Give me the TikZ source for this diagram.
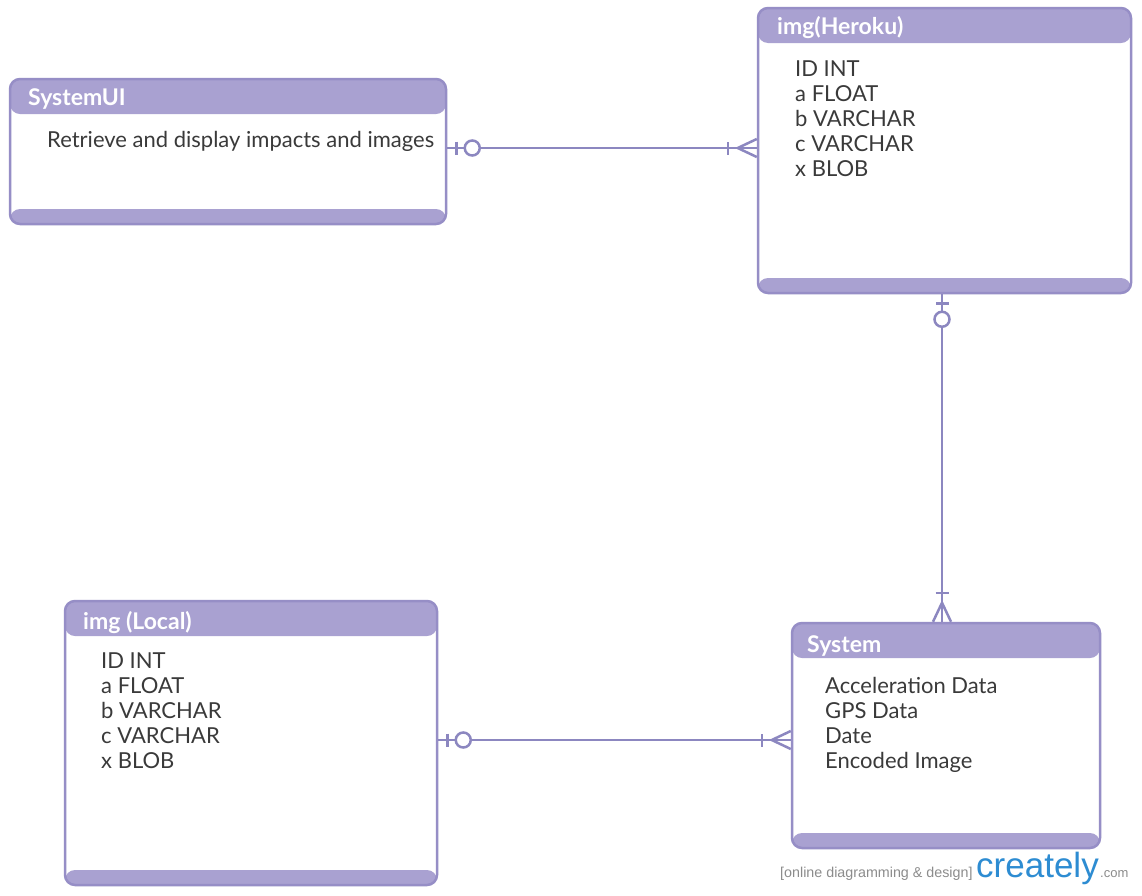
\documentclass[tikz,border=0pt]{standalone}
\usepackage{fontspec}
\setmainfont{Lato}
\newfontfamily\wmfont{Liberation Sans}
\usetikzlibrary{calc}
\definecolor{head}{RGB}{169,161,209}
\definecolor{bord}{RGB}{150,142,198}
\definecolor{conn}{RGB}{140,135,192}
\definecolor{txt}{RGB}{58,58,58}
\definecolor{wmgray}{RGB}{140,140,140}
\definecolor{wmblue}{RGB}{45,140,210}
\begin{document}
\begin{tikzpicture}[x=1pt,y=-1pt,
  entity/.style={draw=bord, line width=2.5pt, rounded corners=10pt, fill=white, inner sep=0pt,
    path picture={
      \fill[head] (path picture bounding box.north west) rectangle ([yshift=-35pt]path picture bounding box.north east);
      \fill[head] (path picture bounding box.south west) rectangle ([yshift=15pt]path picture bounding box.south east);}},
  title/.style={anchor=base west, inner sep=0pt, text=white, font=\fontsize{23}{27}\selectfont\bfseries},
  attr/.style={anchor=base west, inner sep=0pt, text=txt, font=\fontsize{22}{25}\selectfont},
  link/.style={draw=conn, line width=2.5pt},
  wm/.style={anchor=base west, inner sep=0pt},
  zeroone/.pic={\draw[link] (9,-6.5) -- (9,6.5); \draw[link, fill=white] (25,0) circle (7.5);},
  onemany/.pic={\draw[link] (29,-6.5) -- (29,6.5); \draw[link] (19,0) -- (0,-9) (19,0) -- (0,9);}
]
\useasboundingbox (0,0) rectangle (1142,895);
\fill[white] (0,0) rectangle (1142,895);

% entities
\node[entity, minimum width=436pt, minimum height=145pt] (sysui) at (228,151.5) {};
\node[entity, minimum width=373pt, minimum height=285pt] (heroku) at (944.5,150.5) {};
\node[entity, minimum width=372pt, minimum height=284pt] (local) at (251,743) {};
\node[entity, minimum width=308pt, minimum height=225pt] (system) at (946,735.5) {};

% titles
\node[title] (sysuiT) at (28,105) {SystemUI};
\node[title] (herokuT) at (777,34) {img(Heroku)};
\node[title] (localT) at (83,629) {img (Local)};
\node[title] (systemT) at (807,652.5) {System};

% attributes
\node[attr] (ui1) at (47,147) {Retrieve and display impacts and images};
\foreach \t [count=\i] in {ID INT, a FLOAT, b VARCHAR, c VARCHAR, x BLOB}
  \node[attr] (her\i) at (795,51.5+25*\i) {\t};
\foreach \t [count=\i] in {ID INT, a FLOAT, b VARCHAR, c VARCHAR, x BLOB}
  \node[attr] (loc\i) at (101,643.5+25*\i) {\t};
\foreach \t [count=\i] in {Acceleration Data, GPS Data, Date, Encoded Image}
  \node[attr] (sys\i) at (825,668.5+25*\i) {\t};

% relationships
\coordinate (uiR) at ([yshift=3.5pt]sysui.east);
\draw[link] (uiR) -- (uiR -| heroku.west);
\pic at (uiR) {zeroone};
\pic[rotate=180] at (uiR -| heroku.west) {onemany};

\coordinate (herB) at ([xshift=-2.5pt]heroku.south);
\draw[link] (herB) -- (herB |- system.north);
\pic[rotate=-90] at (herB) {zeroone};
\pic[rotate=90] at (herB |- system.north) {onemany};

\coordinate (locR) at ([yshift=3pt]local.east);
\draw[link] (locR) -- (locR -| system.west);
\pic at (locR) {zeroone};
\pic[rotate=180] at (locR -| system.west) {onemany};

% footer mark
\node[wm, text=wmgray, font=\wmfont\fontsize{14.3}{16}\selectfont] (wm1) at (780,877) {[online diagramming \& design]};
\node[wm, text=wmblue, font=\wmfont\fontsize{35}{40}\selectfont] (wm2) at (976,877) {creately};
\node[wm, text=wmgray, font=\wmfont\fontsize{13}{15}\selectfont] (wm3) at (1100,877) {.com};
\end{tikzpicture}
\end{document}
